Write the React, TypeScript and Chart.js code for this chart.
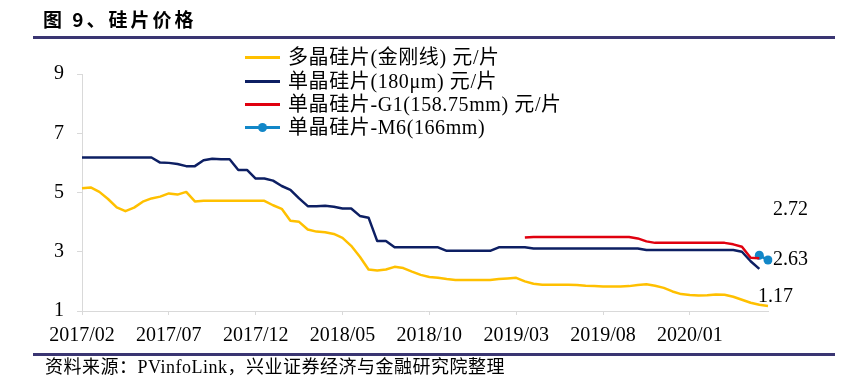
import React, { useEffect, useRef } from "react";
import { Chart, registerables } from "chart.js";
Chart.register(...registerables);

const months = [
  "2017/02", "2017/03", "2017/04", "2017/05", "2017/06", "2017/07", "2017/08", "2017/09", "2017/10", "2017/11", "2017/12",
  "2018/01", "2018/02", "2018/03", "2018/04", "2018/05", "2018/06", "2018/07", "2018/08", "2018/09", "2018/10", "2018/11", "2018/12",
  "2019/01", "2019/02", "2019/03", "2019/04", "2019/05", "2019/06", "2019/07", "2019/08", "2019/09", "2019/10", "2019/11", "2019/12",
  "2020/01", "2020/02", "2020/03", "2020/04", "2020/05",
];
// two observations per month (first half / second half)
const categories = months.flatMap((m) => [m + "上", m + "下"]);
const tickLabels = ["2017/02", "2017/07", "2017/12", "2018/05", "2018/10", "2019/03", "2019/08", "2020/01"];

const polyDiamondWire = [
  5.14, 5.17, 5.02, 4.78, 4.5, 4.37, 4.49, 4.69, 4.8, 4.86,
  4.97, 4.93, 5.02, 4.7, 4.72, 4.72, 4.72, 4.72, 4.72, 4.72,
  4.72, 4.72, 4.57, 4.45, 4.05, 4.01, 3.75, 3.68, 3.66, 3.6,
  3.47, 3.2, 2.83, 2.4, 2.37, 2.4, 2.49, 2.45, 2.33, 2.22,
  2.15, 2.12, 2.08, 2.05, 2.05, 2.05, 2.05, 2.05, 2.08, 2.1,
  2.12, 2.0, 1.92, 1.89, 1.89, 1.89, 1.89, 1.88, 1.85, 1.84,
  1.83, 1.83, 1.83, 1.84, 1.88, 1.9, 1.85, 1.78, 1.66, 1.57,
  1.54, 1.52, 1.53, 1.56, 1.55, 1.48, 1.38, 1.28, 1.21, 1.17,
];

const mono180 = [
  6.18, 6.18, 6.18, 6.18, 6.18, 6.18, 6.18, 6.18, 6.18, 6.01,
  6.0, 5.96, 5.89, 5.89, 6.09, 6.14, 6.12, 6.12, 5.76, 5.76,
  5.47, 5.47, 5.4, 5.22, 5.09, 4.8, 4.54, 4.54, 4.55, 4.52,
  4.46, 4.46, 4.21, 4.15, 3.36, 3.36, 3.15, 3.15, 3.15, 3.15,
  3.15, 3.15, 3.03, 3.03, 3.03, 3.03, 3.03, 3.03, 3.15, 3.15,
  3.15, 3.15, 3.11, 3.11, 3.11, 3.11, 3.11, 3.11, 3.11, 3.11,
  3.11, 3.11, 3.11, 3.11, 3.11, 3.06, 3.06, 3.06, 3.06, 3.06,
  3.06, 3.06, 3.06, 3.06, 3.06, 3.06, 3.0, 2.68, 2.42, null,
];

const monoG1 = [
  null, null, null, null, null, null, null, null, null, null,
  null, null, null, null, null, null, null, null, null, null,
  null, null, null, null, null, null, null, null, null, null,
  null, null, null, null, null, null, null, null, null, null,
  null, null, null, null, null, null, null, null, null, null,
  null, 3.48, 3.5, 3.5, 3.5, 3.5, 3.5, 3.5, 3.5, 3.5,
  3.5, 3.5, 3.5, 3.5, 3.45, 3.35, 3.3, 3.3, 3.3, 3.3,
  3.3, 3.3, 3.3, 3.3, 3.3, 3.25, 3.17, 2.8, 2.78, null,
];

const monoM6 = [
  null, null, null, null, null, null, null, null, null, null,
  null, null, null, null, null, null, null, null, null, null,
  null, null, null, null, null, null, null, null, null, null,
  null, null, null, null, null, null, null, null, null, null,
  null, null, null, null, null, null, null, null, null, null,
  null, null, null, null, null, null, null, null, null, null,
  null, null, null, null, null, null, null, null, null, null,
  null, null, null, null, null, null, null, null, 2.88, 2.72,
];

const seriesNames = [
  "多晶硅片(金刚线) 元/片",
  "单晶硅片(180μm) 元/片",
  "单晶硅片-G1(158.75mm) 元/片",
  "单晶硅片-M6(166mm)",
];
const seriesColors = ["#FFC000", "#0D1F63", "#E0000F", "#1287C8"];
const valueLabels = ["2.72", "2.63", "1.17"];

const SERIF = '"Liberation Serif", "Noto Sans CJK SC", serif';

const labelPlugin = {
  id: "valueLabels",
  afterDatasetsDraw(chart: any) {
    const ctx = chart.ctx;
    const m6 = chart.getDatasetMeta(3).data[79];
    const poly = chart.getDatasetMeta(0).data[79];
    ctx.save();
    ctx.fillStyle = "#000";
    ctx.font = "20px " + SERIF;
    ctx.textBaseline = "middle";
    ctx.textAlign = "left";
    if (m6) {
      ctx.fillText(valueLabels[0], m6.x + 5, m6.y - 50);
      ctx.fillText(valueLabels[1], m6.x + 5, m6.y);
    }
    if (poly) {
      ctx.fillText(valueLabels[2], poly.x - 10, poly.y - 9);
    }
    ctx.restore();
  },
};

export default function App() {
  const ref = useRef<HTMLCanvasElement>(null);
  useEffect(() => {
    if (!ref.current) return;
    const data = [polyDiamondWire, mono180, monoG1, monoM6];
    const chart = new Chart(ref.current, {
      type: "line",
      data: {
        labels: categories,
        datasets: data.map((d, i) => ({
          label: seriesNames[i],
          data: d,
          borderColor: seriesColors[i],
          backgroundColor: seriesColors[i],
          borderWidth: 2.5,
          pointRadius: i === 3 ? 4.5 : 0,
          pointHoverRadius: 0,
          pointBorderWidth: 0,
          tension: 0,
          borderJoinStyle: "round" as const,
          fill: false,
          spanGaps: false,
        })),
      },
      options: {
        responsive: false,
        animation: false,
        devicePixelRatio: 1,
        layout: { padding: { top: 74, right: 95, bottom: 39, left: 0 } },
        plugins: { legend: { display: false }, tooltip: { enabled: false } },
        events: [],
        scales: {
          x: {
            type: "category",
            offset: false,
            grid: {
              drawOnChartArea: false,
              drawTicks: true,
              tickLength: 4,
              tickColor: (c: any) => (c.index % 10 === 0 && c.index <= 70 ? "#d9d9d9" : "rgba(0,0,0,0)"),
            },
            border: { display: true, color: "#d9d9d9", width: 1 },
            ticks: {
              autoSkip: false,
              maxRotation: 0,
              minRotation: 0,
              padding: 9,
              color: "#000",
              font: { family: SERIF, size: 20 },
              callback: (_v: any, i: number) => {
                const m = categories[i].slice(0, 7);
                return i % 2 === 0 && tickLabels.includes(m) ? m : "";
              },
            },
            afterFit: (s: any) => {
              s.height = 40;
            },
          },
          y: {
            min: 1,
            max: 9,
            grid: { drawOnChartArea: false, drawTicks: true, tickLength: 5, tickColor: "#d9d9d9" },
            border: { display: true, color: "#d9d9d9", width: 1 },
            ticks: {
              stepSize: 2,
              padding: 13,
              color: "#000",
              font: { family: SERIF, size: 20 },
            },
            afterFit: (s: any) => {
              s.width = 82;
            },
          },
        },
      },
      plugins: [labelPlugin],
    });
    return () => chart.destroy();
  }, []);

  const legendTops = [45, 69, 92, 115];

  return (
    <div style={{ position: "absolute", left: 0, top: 0, width: 863, height: 390, background: "#fff", overflow: "hidden" }}>
      <canvas ref={ref} width={863} height={390} style={{ position: "absolute", left: 0, top: 0, width: 863, height: 390 }} />
      <div
        style={{
          position: "absolute", left: 43, top: 7, fontFamily: '"Noto Sans CJK SC", sans-serif', fontWeight: 700,
          fontSize: 19, lineHeight: "24px", letterSpacing: "3px", color: "#000", whiteSpace: "nowrap",
        }}
      >
        图 9、硅片价格
      </div>
      <div style={{ position: "absolute", left: 33, top: 36, width: 802, height: 3, background: "#3A3572" }} />
      {seriesNames.map((name, i) => (
        <div key={i} style={{ position: "absolute", left: 245, top: legendTops[i], height: 24, display: "flex", alignItems: "center", whiteSpace: "nowrap" }}>
          <div style={{ position: "relative", width: 35, height: 24 }}>
            <div style={{ position: "absolute", left: 0, top: 11, width: 35, height: 2.5, background: seriesColors[i] }} />
            {i === 3 && (
              <div style={{ position: "absolute", left: 13, top: 8, width: 9, height: 9, borderRadius: "50%", background: seriesColors[i] }} />
            )}
          </div>
          <span style={{ marginLeft: 8, fontFamily: SERIF, fontSize: 20, lineHeight: "24px", letterSpacing: "0.6px", color: "#000" }}>{name}</span>
        </div>
      ))}
      <div style={{ position: "absolute", left: 33, top: 353, width: 802, height: 3, background: "#3A3572" }} />
      <div
        style={{
          position: "absolute", left: 45, top: 357, fontFamily: SERIF, fontSize: 18, lineHeight: "21px",
          letterSpacing: "0.5px", color: "#000", whiteSpace: "nowrap",
        }}
      >
        资料来源：PVinfoLink，兴业证券经济与金融研究院整理
      </div>
    </div>
  );
}
